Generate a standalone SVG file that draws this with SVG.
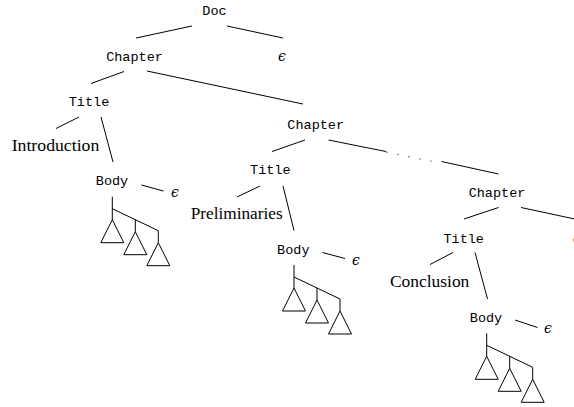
<svg xmlns="http://www.w3.org/2000/svg" xmlns:xlink="http://www.w3.org/1999/xlink" width="574" height="407" viewBox="0 0 574 407">
<style>
.tt{font-family:"Liberation Mono","DejaVu Sans Mono",monospace;font-size:13.5px;fill:#000;text-anchor:middle}
.rm{font-family:"Liberation Serif","DejaVu Serif",serif;font-size:16px;fill:#000}
.eps{font-family:"DejaVu Serif","Liberation Serif",serif;font-style:italic;font-size:14px;fill:#000;text-anchor:middle}
.ln{stroke:#000;stroke-width:1;fill:none}
.dot{fill:#333}
</style>
<defs>
<g id="subtrees" class="ln">
<path d="M0,0V23M0,12L46,34M23,23V35M46,34V46"/>
<path d="M0,23L-11.5,46H11.5ZM23,35L11.5,58H34.5ZM46,46L34.5,69H57.5Z"/>
</g>
</defs>
<rect width="574" height="407" fill="#fff"/>
<g id="connectors" class="ln">
<line x1="136" y1="38" x2="192" y2="26"/>
<line x1="227" y1="26" x2="283" y2="38"/>
<line x1="91" y1="83.5" x2="124" y2="71.5"/>
<line x1="147" y1="71" x2="303" y2="104"/>
<line x1="79" y1="117" x2="56" y2="128.5"/>
<line x1="101" y1="117" x2="113" y2="162"/>
<line x1="141.5" y1="185" x2="163.5" y2="191"/>
<line x1="272" y1="151.5" x2="305" y2="140"/>
<line x1="328.5" y1="140" x2="386" y2="151.5"/>
<line x1="441.5" y1="161.5" x2="498.5" y2="174"/>
<line x1="260" y1="186" x2="237" y2="197"/>
<line x1="283" y1="186" x2="294" y2="230.5"/>
<line x1="322.5" y1="252.5" x2="345" y2="258.5"/>
<line x1="464" y1="219" x2="498.5" y2="207.5"/>
<line x1="521" y1="207.5" x2="577" y2="219.5"/>
<line x1="453" y1="252.5" x2="430" y2="264.5"/>
<line x1="475" y1="252.5" x2="487.5" y2="299"/>
<line x1="515" y1="320" x2="537.5" y2="327.5"/>
<g stroke="none">
<circle class="dot" cx="387" cy="152.3" r="0.7"/>
<circle class="dot" cx="398" cy="154.5" r="0.7"/>
<circle class="dot" cx="409" cy="156.7" r="0.7"/>
<circle class="dot" cx="420" cy="158.9" r="0.7"/>
<circle class="dot" cx="431" cy="161.1" r="0.7"/>
</g>
</g>
<g id="doc"><text class="tt" x="214.5" y="15">Doc</text></g>
<g id="eps-doc"><text class="eps" x="282" y="60.7">ϵ</text></g>
<g id="chapter1"><text class="tt" x="134.5" y="60.7">Chapter</text></g>
<g id="title1"><text class="tt" x="89" y="106">Title</text></g>
<g id="introduction"><text class="rm" x="11.7" y="150.7" textLength="87.6" lengthAdjust="spacingAndGlyphs">Introduction</text></g>
<g id="body1"><text class="tt" x="112" y="184.8">Body</text></g>
<g id="eps-body1"><text class="eps" x="175" y="196.7">ϵ</text></g>
<g id="body1-subtrees"><use xlink:href="#subtrees" x="112.3" y="196.7"/></g>
<g id="chapter2"><text class="tt" x="315.7" y="128.5">Chapter</text></g>
<g id="title2"><text class="tt" x="270.3" y="173.8">Title</text></g>
<g id="preliminaries"><text class="rm" x="190.7" y="219.3" textLength="92" lengthAdjust="spacingAndGlyphs">Preliminaries</text></g>
<g id="body2"><text class="tt" x="293.3" y="254.2">Body</text></g>
<g id="eps-body2"><text class="eps" x="356" y="265">ϵ</text></g>
<g id="body2-subtrees"><use xlink:href="#subtrees" x="294" y="265"/></g>
<g id="chapter3"><text class="tt" x="497" y="196.5">Chapter</text></g>
<g id="eps-chapter3"><text class="eps" x="577" y="242.5">ϵ</text></g>
<g id="title3"><text class="tt" x="463.7" y="242.5">Title</text></g>
<g id="conclusion"><text class="rm" x="390" y="286.7" textLength="79.3" lengthAdjust="spacingAndGlyphs">Conclusion</text></g>
<g id="body3"><text class="tt" x="486" y="321.6">Body</text></g>
<g id="eps-body3"><text class="eps" x="548" y="332.7">ϵ</text></g>
<g id="body3-subtrees"><use xlink:href="#subtrees" x="486.7" y="333.3"/></g>
</svg>
